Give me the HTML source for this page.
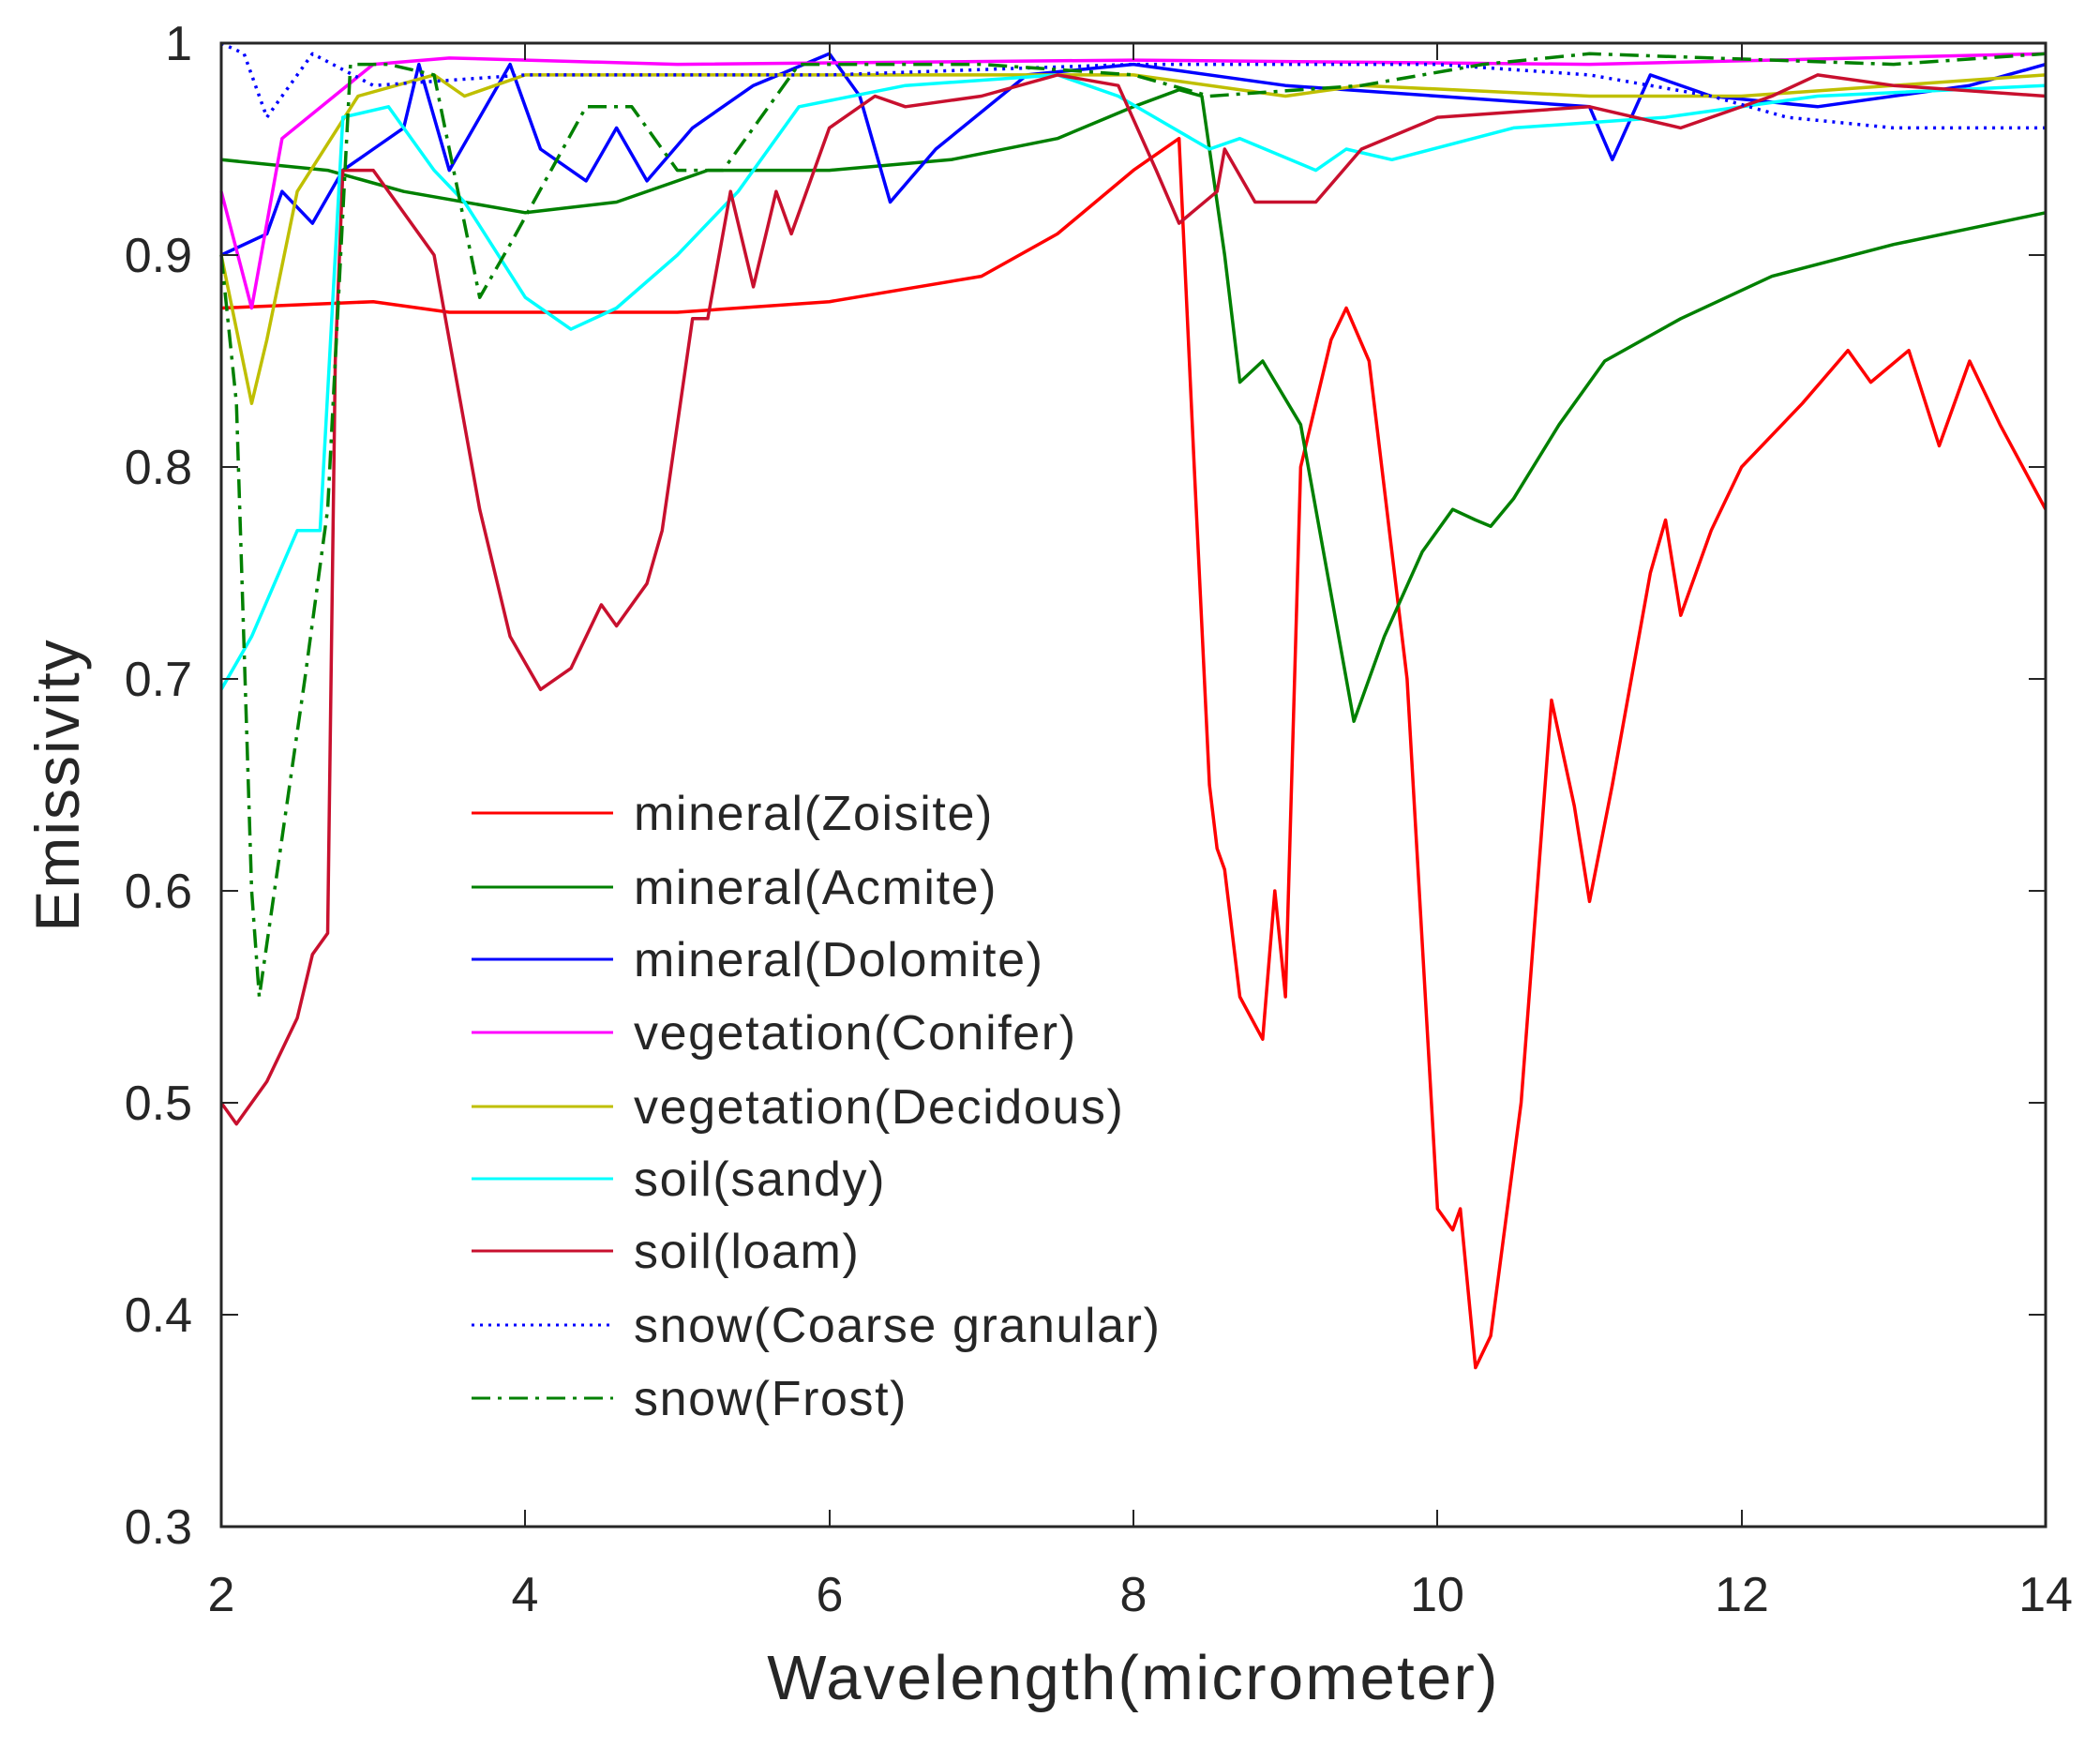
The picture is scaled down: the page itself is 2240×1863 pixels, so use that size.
<!DOCTYPE html>
<html><head><meta charset="utf-8"><style>
html,body{margin:0;padding:0;background:#fff}
svg{display:block}
text{font-family:"Liberation Sans",sans-serif;fill:#262626}
polyline{fill:none;stroke-width:3.5;vector-effect:non-scaling-stroke;stroke-linejoin:round}
</style></head><body>
<svg width="2240" height="1863" viewBox="0 0 2240 1863" xmlns="http://www.w3.org/2000/svg">
<rect width="2240" height="1863" fill="#fff"/>
<g transform="translate(236,46) scale(162.1667,-2260) translate(-2,-1)">
<polyline stroke="#ff0000" points="2,0.875 3,0.878 3.5,0.873 5,0.873 6,0.878 7,0.89 7.5,0.91 8,0.94 8.3,0.955 8.4,0.8 8.5,0.65 8.55,0.62 8.6,0.61 8.7,0.55 8.85,0.53 8.93,0.6 9,0.55 9.1,0.8 9.3,0.86 9.4,0.875 9.55,0.85 9.8,0.7 10,0.45 10.1,0.44 10.15,0.45 10.25,0.375 10.35,0.39 10.55,0.5 10.75,0.69 10.9,0.64 11,0.595 11.15,0.65 11.4,0.75 11.5,0.775 11.6,0.73 11.8,0.77 12,0.8 12.4,0.83 12.7,0.855 12.85,0.84 13.1,0.855 13.3,0.81 13.5,0.85 13.7,0.82 14,0.78"/>
<polyline stroke="#008000" points="2,0.945 2.7,0.94 3.2,0.93 4,0.92 4.6,0.925 5.2,0.94 6,0.94 6.8,0.945 7.5,0.955 8,0.97 8.3,0.978 8.45,0.975 8.6,0.9 8.7,0.84 8.85,0.85 9.1,0.82 9.3,0.74 9.45,0.68 9.65,0.72 9.9,0.76 10.1,0.78 10.25,0.775 10.35,0.772 10.5,0.785 10.8,0.82 11.1,0.85 11.6,0.87 12.2,0.89 13,0.905 14,0.92"/>
<polyline stroke="#0000ff" points="2,0.9 2.3,0.91 2.4,0.93 2.6,0.915 2.8,0.94 3,0.95 3.2,0.96 3.3,0.99 3.5,0.94 3.9,0.99 4.1,0.95 4.4,0.935 4.6,0.96 4.8,0.935 5.1,0.96 5.5,0.98 6,0.995 6.2,0.975 6.4,0.925 6.7,0.95 7.3,0.985 8,0.99 9,0.98 10,0.975 11,0.97 11.15,0.945 11.4,0.985 11.8,0.975 12.5,0.97 13.5,0.98 14,0.99"/>
<polyline stroke="#ff00ff" points="2,0.93 2.2,0.875 2.4,0.955 3,0.99 3.5,0.993 5,0.99 8,0.992 11,0.99 14,0.995"/>
<polyline stroke="#bfbf00" points="2,0.9 2.2,0.83 2.3,0.86 2.5,0.93 2.9,0.975 3.4,0.985 3.6,0.975 4,0.985 8,0.985 9,0.975 9.5,0.98 11,0.975 12,0.975 14,0.985"/>
<polyline stroke="#00ffff" points="2,0.695 2.2,0.72 2.5,0.77 2.65,0.77 2.8,0.965 3.1,0.97 3.4,0.94 3.6,0.925 4,0.88 4.3,0.865 4.6,0.875 5,0.9 5.4,0.93 5.8,0.97 6.5,0.98 7.5,0.985 7.9,0.975 8.5,0.95 8.7,0.955 9.2,0.94 9.4,0.95 9.7,0.945 10.5,0.96 11.5,0.965 12.5,0.975 14,0.98"/>
<polyline stroke="#c8102e" points="2,0.5 2.1,0.49 2.3,0.51 2.5,0.54 2.6,0.57 2.7,0.58 2.75,0.85 2.8,0.94 3,0.94 3.4,0.9 3.5,0.86 3.7,0.78 3.9,0.72 4.1,0.695 4.3,0.705 4.5,0.735 4.6,0.725 4.8,0.745 4.9,0.77 5.1,0.87 5.2,0.87 5.35,0.93 5.5,0.885 5.65,0.93 5.75,0.91 6,0.96 6.3,0.975 6.5,0.97 7,0.975 7.5,0.985 7.9,0.98 8.15,0.94 8.3,0.915 8.55,0.93 8.6,0.95 8.8,0.925 9.2,0.925 9.5,0.95 10,0.965 11,0.97 11.6,0.96 12.2,0.975 12.5,0.985 13,0.98 14,0.975"/>
<polyline stroke="#0000ff" stroke-dasharray="3,6" points="2,1 2.15,0.995 2.3,0.965 2.6,0.995 3,0.98 4,0.985 6,0.985 8,0.99 10,0.99 11,0.985 11.8,0.975 12.3,0.965 13,0.96 14,0.96"/>
<polyline stroke="#008000" stroke-dasharray="20,8,4,8" points="2,0.9 2.1,0.83 2.2,0.6 2.25,0.55 2.35,0.6 2.55,0.7 2.7,0.78 2.85,0.99 3.1,0.99 3.4,0.985 3.7,0.88 3.9,0.905 4.4,0.97 4.7,0.97 5,0.94 5.3,0.94 5.8,0.99 7,0.99 8,0.985 8.5,0.975 9.5,0.98 10.3,0.99 11,0.995 13,0.99 14,0.995"/>
</g>
<rect x="236" y="46" width="1946" height="1582" fill="none" stroke="#262626" stroke-width="3"/>
<g stroke="#262626" stroke-width="2">
<path d="M560,1628v-18M560,46v18M885,1628v-18M885,46v18M1209,1628v-18M1209,46v18M1533,1628v-18M1533,46v18M1858,1628v-18M1858,46v18"/>
<path d="M236,1402h18M2182,1402h-18M236,1176h18M2182,1176h-18M236,950h18M2182,950h-18M236,724h18M2182,724h-18M236,498h18M2182,498h-18M236,272h18M2182,272h-18"/>
</g>
<g font-size="52" text-anchor="middle">
<text x="236" y="1718">2</text><text x="560" y="1718">4</text><text x="885" y="1718">6</text><text x="1209" y="1718">8</text><text x="1533" y="1718">10</text><text x="1858" y="1718">12</text><text x="2182" y="1718">14</text>
</g>
<g font-size="52" text-anchor="end">
<text x="205" y="1646">0.3</text><text x="205" y="1420">0.4</text><text x="205" y="1194">0.5</text><text x="205" y="968">0.6</text><text x="205" y="742">0.7</text><text x="205" y="516">0.8</text><text x="205" y="290">0.9</text><text x="205" y="64">1</text>
</g>
<text x="1209" y="1812" font-size="67" letter-spacing="2.3" text-anchor="middle">Wavelength(micrometer)</text>
<text transform="translate(84,837) rotate(-90)" font-size="66" letter-spacing="2" text-anchor="middle">Emissivity</text>
<g font-size="52" letter-spacing="1.6">
<line x1="503" y1="867" x2="654" y2="867" stroke="#ff0000" stroke-width="3"/><text x="676" y="885">mineral(Zoisite)</text>
<line x1="503" y1="946" x2="654" y2="946" stroke="#008000" stroke-width="3"/><text x="676" y="964">mineral(Acmite)</text>
<line x1="503" y1="1023" x2="654" y2="1023" stroke="#0000ff" stroke-width="3"/><text x="676" y="1041">mineral(Dolomite)</text>
<line x1="503" y1="1101" x2="654" y2="1101" stroke="#ff00ff" stroke-width="3"/><text x="676" y="1119">vegetation(Conifer)</text>
<line x1="503" y1="1180" x2="654" y2="1180" stroke="#bfbf00" stroke-width="3"/><text x="676" y="1198">vegetation(Decidous)</text>
<line x1="503" y1="1257" x2="654" y2="1257" stroke="#00ffff" stroke-width="3"/><text x="676" y="1275">soil(sandy)</text>
<line x1="503" y1="1334" x2="654" y2="1334" stroke="#c8102e" stroke-width="3"/><text x="676" y="1352">soil(loam)</text>
<line x1="503" y1="1413" x2="654" y2="1413" stroke="#0000ff" stroke-width="3" stroke-dasharray="3,6"/><text x="676" y="1431">snow(Coarse granular)</text>
<line x1="503" y1="1491" x2="654" y2="1491" stroke="#008000" stroke-width="3" stroke-dasharray="20,8,4,8"/><text x="676" y="1509">snow(Frost)</text>
</g>
</svg>
</body></html>
